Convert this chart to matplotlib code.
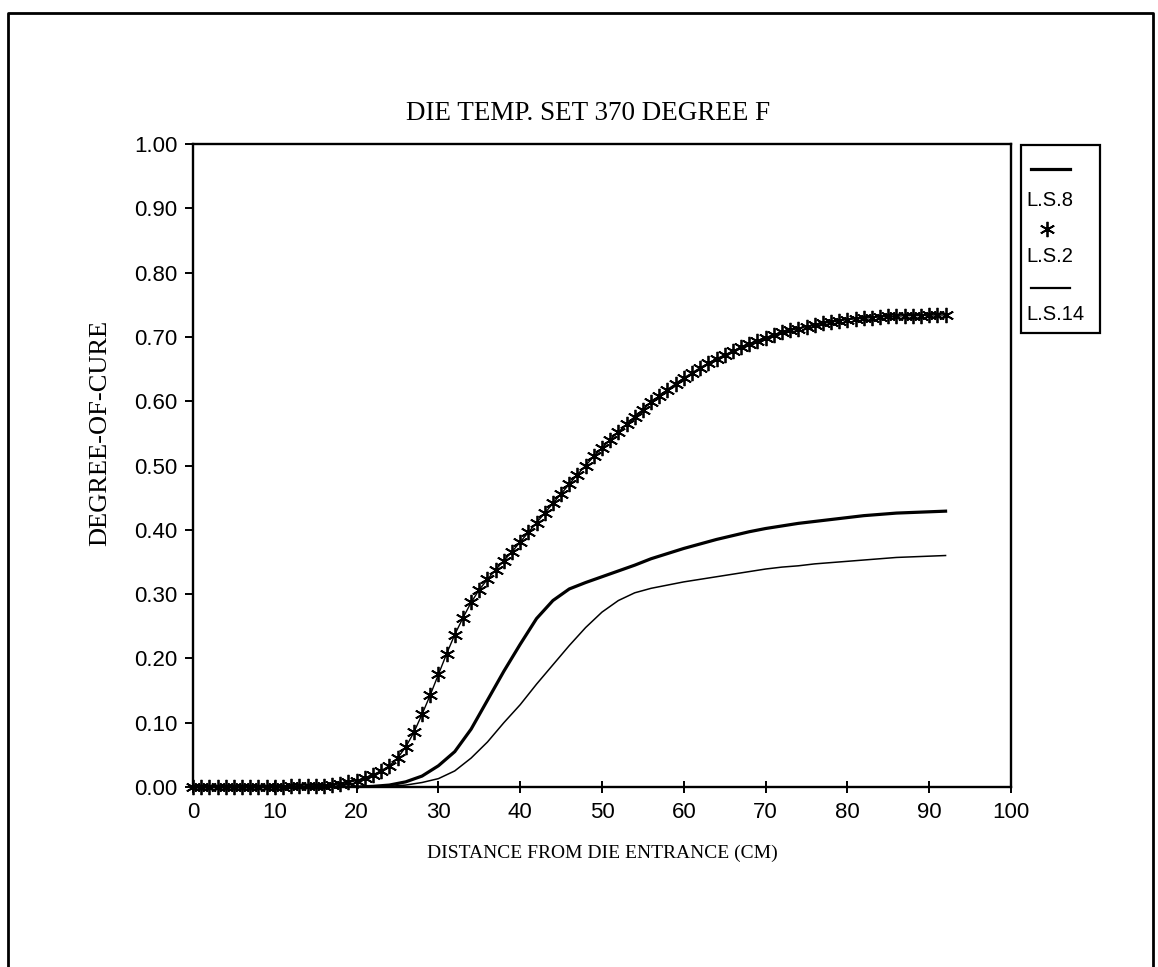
import numpy as np
import matplotlib.pyplot as plt
from matplotlib.lines import Line2D
from matplotlib.patches import Rectangle

# ---- data ----
dist_lines = [0, 2, 4, 6, 8, 10, 12, 14, 16, 18, 20, 22, 24, 26, 28, 30, 32, 34, 36, 38,
              40, 42, 44, 46, 48, 50, 52, 54, 56, 58, 60, 62, 64, 66, 68, 70, 72, 74, 76, 78,
              80, 82, 84, 86, 88, 90, 92]

ls8 = [0.000, 0.000, 0.000, 0.000, 0.000, 0.000, 0.000, 0.000, 0.000, 0.000,
       0.000, 0.001, 0.003, 0.008, 0.017, 0.033, 0.055, 0.090, 0.135, 0.180,
       0.222, 0.262, 0.290, 0.308, 0.318, 0.327, 0.336, 0.345, 0.355, 0.363,
       0.371, 0.378, 0.385, 0.391, 0.397, 0.402, 0.406, 0.410, 0.413, 0.416,
       0.419, 0.422, 0.424, 0.426, 0.427, 0.428, 0.429]

ls14 = [0.000, 0.000, 0.000, 0.000, 0.000, 0.000, 0.000, 0.000, 0.000, 0.000,
        0.000, 0.000, 0.001, 0.003, 0.007, 0.013, 0.025, 0.045, 0.070, 0.100,
        0.128, 0.160, 0.190, 0.220, 0.248, 0.272, 0.290, 0.302, 0.309, 0.314,
        0.319, 0.323, 0.327, 0.331, 0.335, 0.339, 0.342, 0.344, 0.347, 0.349,
        0.351, 0.353, 0.355, 0.357, 0.358, 0.359, 0.360]

dist_stars = list(range(0, 93))
ls2 = [0.000, 0.000, 0.000, 0.000, 0.000, 0.000, 0.000, 0.000, 0.000, 0.000,
       0.000, 0.000, 0.001, 0.001, 0.001, 0.002, 0.002, 0.003, 0.005, 0.007,
       0.010, 0.014, 0.019, 0.025, 0.033, 0.045, 0.062, 0.085, 0.113, 0.143,
       0.175, 0.207, 0.237, 0.263, 0.287, 0.307, 0.323, 0.338, 0.352, 0.366,
       0.381, 0.396, 0.411, 0.426, 0.441, 0.456, 0.471, 0.486, 0.500, 0.514,
       0.527, 0.540, 0.552, 0.564, 0.576, 0.587, 0.598, 0.608, 0.618, 0.627,
       0.636, 0.644, 0.652, 0.659, 0.666, 0.672, 0.678, 0.684, 0.689, 0.694,
       0.699, 0.703, 0.707, 0.710, 0.713, 0.716, 0.719, 0.721, 0.723, 0.725,
       0.727, 0.728, 0.729, 0.730, 0.731, 0.732, 0.732, 0.733, 0.733, 0.733,
       0.734, 0.734, 0.734]

x_ticks = [0, 10, 20, 30, 40, 50, 60, 70, 80, 90, 100]
y_ticks = [0.0, 0.1, 0.2, 0.3, 0.4, 0.5, 0.6, 0.7, 0.8, 0.9, 1.0]
legend_names = ["L.S.8", "L.S.2", "L.S.14"]

W, H = 1158, 967
serif = ['Liberation Serif', 'DejaVu Serif']
sans = ['Liberation Sans', 'DejaVu Sans']
star = (6, 2, 0)


def fx(px):
    return px / W


def fy(py):
    return 1 - py / H


fig = plt.figure(figsize=(W / 100, H / 100), dpi=100)
ax = fig.add_axes([fx(193), fy(787), fx(1011) - fx(193), fy(144) - fy(787)])

ax.plot(dist_lines, ls8, color='black', lw=2.3)
ax.plot(dist_lines, ls14, color='black', lw=1.1)
ax.plot(dist_stars, ls2, color='black', lw=1.0, marker=star,
        markersize=11, markeredgewidth=1.3, clip_on=False)

ax.set_xlim(0, 100)
ax.set_ylim(0, 1.0)
ax.set_xticks(x_ticks)
ax.set_yticks(y_ticks)
ax.set_xticklabels([str(t) for t in x_ticks], family=sans, fontsize=16)
ax.set_yticklabels(['%.2f' % t for t in y_ticks], family=sans, fontsize=16)
ax.tick_params(axis='y', direction='out', length=6, width=1.4, pad=5)
ax.tick_params(axis='x', direction='inout', length=9, width=1.4, pad=6)
for s in ax.spines.values():
    s.set_linewidth(1.7)

ax.set_xlabel('DISTANCE FROM DIE ENTRANCE (CM)', family=serif, fontsize=14)
ax.xaxis.set_label_coords(0.5, -0.09)
ax.set_ylabel('DEGREE-OF-CURE', family=serif, fontsize=19)
ax.yaxis.set_label_coords(-0.1, 0.55)

fig.text(fx(588), fy(113), 'DIE TEMP. SET 370 DEGREE F', family=serif,
         fontsize=19.5, ha='center', va='center')

# legend drawn by hand: symbol stacked above each label
fig.add_artist(Rectangle((fx(1021), fy(333)), fx(1100) - fx(1021), fy(145) - fy(333),
                         transform=fig.transFigure, fill=False, lw=1.6, ec='black'))
fig.add_artist(Line2D([fx(1031), fx(1070)], [fy(169), fy(169)], transform=fig.transFigure,
                      color='black', lw=2.3))
fig.text(fx(1026), fy(200), legend_names[0], family=sans, fontsize=14.5, va='center')
fig.add_artist(Line2D([fx(1047)], [fy(229)], transform=fig.transFigure, color='black',
                      marker=star, markersize=11, markeredgewidth=1.3, ls='none'))
fig.text(fx(1026), fy(257), legend_names[1], family=sans, fontsize=14.5, va='center')
fig.add_artist(Line2D([fx(1031), fx(1070)], [fy(288), fy(288)], transform=fig.transFigure,
                      color='black', lw=1.6))
fig.text(fx(1026), fy(315), legend_names[2], family=sans, fontsize=14.5, va='center')

# outer page frame (open at the bottom edge of the scan)
fig.add_artist(Line2D([fx(8), fx(8), fx(1153), fx(1153)], [fy(975), fy(13), fy(13), fy(975)],
                      transform=fig.transFigure, color='black', lw=2.0))

fig.savefig('out.png', dpi=100)
